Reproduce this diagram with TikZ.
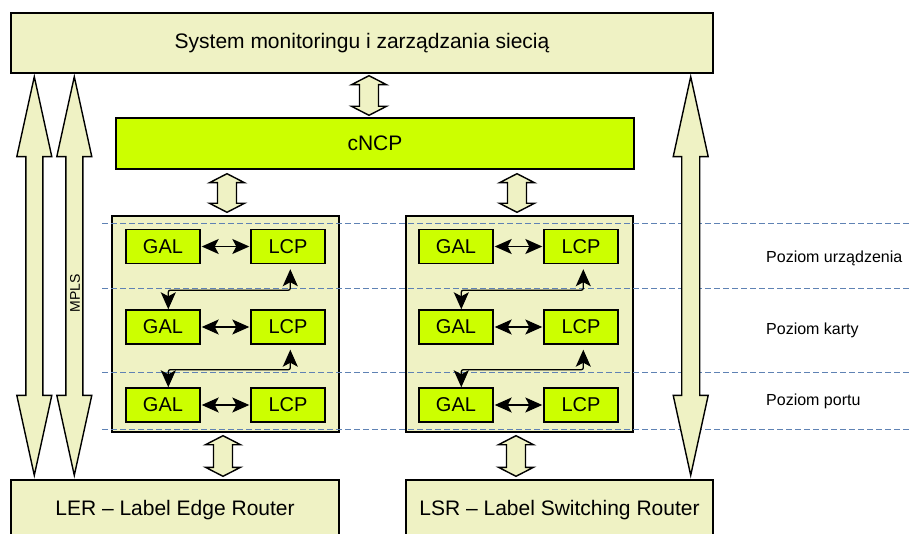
\documentclass[tikz,border=0pt]{standalone}
\usepackage{fontspec}
\setmainfont{Liberation Sans}
\usetikzlibrary{arrows.meta,calc}

\definecolor{paleyel}{RGB}{239,242,196}
\definecolor{lime}{RGB}{204,255,0}
\definecolor{levelblue}{RGB}{95,130,180}

\tikzset{
  pale/.style={draw=black, line width=1.4pt, fill=paleyel, inner sep=0pt},
  limebox/.style={draw=black, line width=1.4pt, fill=lime, inner sep=0pt},
  bigtext/.style={font=\fontsize{21}{25}\selectfont},
  unit/.style={limebox, minimum width=74pt, minimum height=34pt, font=\fontsize{20}{24}\selectfont},
  card/.style={pale, minimum width=227pt, minimum height=216pt},
  levelline/.style={levelblue, dash pattern=on 6pt off 3pt, line width=0.9pt},
  tiphead/.tip={Stealth[length=17pt,width=15pt,inset=4pt]},
  link/.style={line width=1.3pt, rounded corners=2pt, tiphead-tiphead},
  blockarr/.style={draw=black, line width=1.4pt, fill=paleyel, line join=miter},
  levellabel/.style={anchor=base west, inner sep=0pt, font=\fontsize{16}{19}\selectfont},
}

% double-headed block arrow: top point, bottom point, head width, head length, shaft width
\newcommand\blockarrow[5]{%
  \draw[blockarr] let \p1=(#1), \p2=(#2) in
    (\x1,\y1) -- (\x1+#3/2,\y1-#4) -- (\x1+#5/2,\y1-#4) -- (\x1+#5/2,\y2+#4)
    -- (\x1+#3/2,\y2+#4) -- (\x1,\y2) -- (\x1-#3/2,\y2+#4) -- (\x1-#5/2,\y2+#4)
    -- (\x1-#5/2,\y1-#4) -- (\x1-#3/2,\y1-#4) -- cycle;}

\begin{document}
\begin{tikzpicture}[x=1pt,y=-1pt]
\useasboundingbox (0,0) rectangle (909,534);
\clip (0,0) rectangle (909,534);

% main boxes
\node[pale, bigtext, minimum width=702pt, minimum height=60pt] (sys) at (362,43)
  {System monitoringu i zarządzania siecią};
\node[limebox, bigtext, minimum width=518pt, minimum height=51pt] (cncp) at (375,143.5) {cNCP};
\node[card] (cardL) at (225.5,324) {};
\node[card] (cardR) at (519.5,324) {};
\node[pale, bigtext, minimum width=328pt, minimum height=60pt] (ler) at (175,510)
  {LER – Label Edge Router};
\node[pale, bigtext, minimum width=307pt, minimum height=60pt] (lsr) at (559.5,510)
  {LSR – Label Switching Router};

% level separators
\foreach \yy in {223,288,372,429}
  \draw[levelline] (102,\yy) -- (909,\yy);

% GAL / LCP pairs on each level
\foreach \side/\gx/\lx in {L/163/288, R/456/581}{
  \foreach \row/\yy in {1/246.5, 2/327, 3/405}{
    \node[unit] (gal\side\row) at (\gx,\yy) {GAL};
    \node[unit] (lcp\side\row) at (\lx,\yy) {LCP};
    \draw[link, shorten <=1pt, shorten >=1pt] (gal\side\row) -- (lcp\side\row);
  }
  % links between levels
  \draw[link] ([xshift=43pt]gal\side2.north west)
    |- ([xshift=40pt,yshift=-26pt]lcp\side1.south west)
    -- ([xshift=40pt,yshift=-5pt]lcp\side1.south west);
  \draw[link] ([xshift=43pt]gal\side3.north west)
    |- ([xshift=40pt,yshift=-25pt]lcp\side2.south west)
    -- ([xshift=40pt,yshift=-5pt]lcp\side2.south west);
}

% long management arrows
\blockarrow{$(sys.south west)+(24pt,-3pt)$}{$(ler.north west)+(24pt,4pt)$}{35pt}{80pt}{17pt}
\blockarrow{$(sys.south west)+(64pt,-3pt)$}{$(ler.north west)+(64pt,4pt)$}{35pt}{80pt}{17pt}
\blockarrow{$(sys.south east)+(-23pt,-3pt)$}{$(lsr.north east)+(-23pt,4pt)$}{35pt}{80pt}{18pt}
\node[rotate=90, font=\fontsize{14}{16}\selectfont, inner sep=0pt] (mpls) at (75,293) {MPLS};

% short interface arrows
\blockarrow{$(sys.south)+(7pt,-2pt)$}{$(cncp.north)+(-6pt,2pt)$}{35pt}{9pt}{19pt}
\blockarrow{$(cardL.north |- cncp.south)+(1.5pt,-4pt)$}{$(cardL.north)+(1.5pt,3pt)$}{35pt}{9pt}{19pt}
\blockarrow{$(cardR.north |- cncp.south)+(-2.5pt,-4pt)$}{$(cardR.north)+(-2.5pt,3pt)$}{35pt}{9pt}{19pt}
\blockarrow{$(cardL.south)+(-2.5pt,-3pt)$}{$(cardL.south |- ler.north)+(-2.5pt,3pt)$}{35pt}{9pt}{19pt}
\blockarrow{$(cardR.south)+(-3.5pt,-3pt)$}{$(cardR.south |- lsr.north)+(-3.5pt,3pt)$}{35pt}{9pt}{19pt}

% level names
\node[levellabel] (lvl1) at (766,263) {Poziom urządzenia};
\node[levellabel] (lvl2) at (766,334) {Poziom karty};
\node[levellabel] (lvl3) at (766,405) {Poziom portu};
\end{tikzpicture}
\end{document}
